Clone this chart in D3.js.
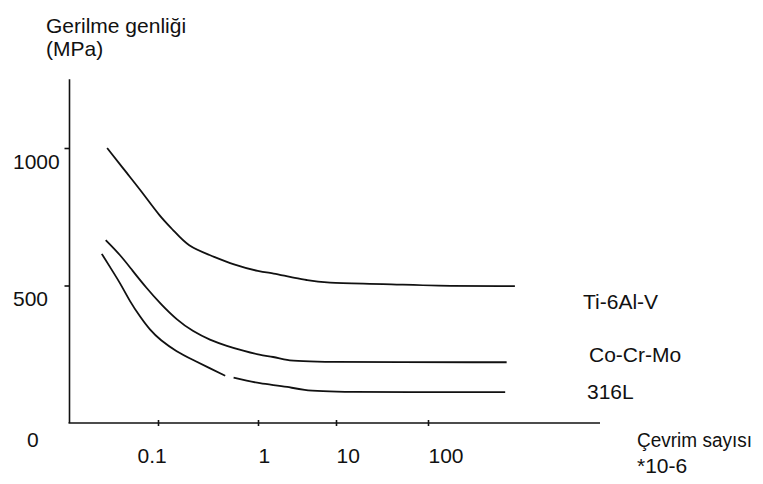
<!DOCTYPE html>
<html>
<head>
<meta charset="utf-8">
<script src="https://cdn.jsdelivr.net/npm/d3@7"></script>
<style>
  html, body { margin: 0; padding: 0; background: #fff; }
  svg text { font-family: "Liberation Sans", Arial, sans-serif; font-size: 21px; fill: #111; }
</style>
</head>
<body>
<svg id="chart" width="763" height="484"></svg>
<script>
// ---- data ----
const seriesNames = ["Ti-6Al-V", "Co-Cr-Mo", "316L"];
// [cycles (x10^6), stress amplitude MPa]
const ti6alv = [[0.031,1000],[0.049,908],[0.071,835],[0.105,750],[0.142,702],[0.2,641],[0.33,611],[0.57,575],[1.06,550],[1.56,545],[2.57,531],[4.25,520],[6.6,509],[35,506],[113,498],[880,498]];
const cocrmo = [[0.030,665],[0.042,611],[0.055,556],[0.077,490],[0.105,435],[0.154,375],[0.225,332],[0.33,302],[0.49,280],[0.71,263],[1.06,247],[1.56,241],[2.33,229],[3.8,221],[716,221]];
const l316 = [[0.0274,615],[0.033,568],[0.042,508],[0.0525,441],[0.066,387],[0.083,338],[0.105,302],[0.154,259],[0.225,229],[0.33,199],[0.47,172],[0.52,null],[0.57,165],[0.77,154],[1.06,144],[1.57,138],[2.33,132],[3.8,120],[8,112],[690,112]];
const xTickValues = [0.1, 1, 10, 100];
const xTickLabels = ["0.1", "1", "10", "100"];
const yTickValues = [500, 1000];
const yTickLabels = ["500", "1000"];
const yTitle = ["Gerilme genliği", "(MPa)"];
const xTitle = ["Çevrim sayısı", "*10-6"];

// ---- layout ----
const svg = d3.select("#chart");
const plotLeft = 69.5, plotRight = 600, plotBottom = 423, plotTop = 79.25;

// hand-drawn decade spacing in the original: piecewise log scale
const x = d3.scaleLog().domain(xTickValues).range([158, 258, 336, 428]);
const y = d3.scaleLinear().domain([0, 1250]).range([plotBottom, plotTop]);

const ink = "#111";

// axes lines
svg.append("line").attr("x1", plotLeft).attr("x2", plotLeft).attr("y1", plotTop).attr("y2", plotBottom)
  .attr("stroke", ink).attr("stroke-width", 1.6);
svg.append("line").attr("x1", plotLeft - 1).attr("x2", plotRight).attr("y1", plotBottom).attr("y2", plotBottom)
  .attr("stroke", ink).attr("stroke-width", 1.6);

// x axis ticks
const gx = svg.append("g").attr("transform", `translate(0,${plotBottom})`)
  .call(d3.axisBottom(x).tickValues(xTickValues).tickFormat((d, i) => xTickLabels[i]).tickSizeOuter(0));
gx.select(".domain").remove();
gx.selectAll(".tick line").attr("y1", -3).attr("y2", 3).attr("stroke", ink).attr("stroke-width", 1.6);
gx.selectAll(".tick text").attr("font-size", null).attr("font-family", null)
  .attr("y", 40).attr("dy", 0).attr("text-anchor", "start")
  .attr("dx", d => d < 1 ? -21 : 0);

// y axis ticks
const gy = svg.append("g").attr("transform", `translate(${plotLeft},0)`)
  .call(d3.axisLeft(y).tickValues(yTickValues).tickFormat((d, i) => yTickLabels[i]).tickSize(5).tickSizeOuter(0));
gy.select(".domain").remove();
gy.selectAll(".tick line").attr("stroke", ink).attr("stroke-width", 1.6);
gy.selectAll(".tick text").attr("font-size", null).attr("font-family", null)
  .attr("text-anchor", "start").attr("x", 13 - plotLeft).attr("dy", 20);

// origin label
svg.append("text").attr("x", 27).attr("y", y(0) + 24).text("0");

// titles
svg.append("text").attr("x", 46).attr("y", 33).text(yTitle[0]);
svg.append("text").attr("x", 46).attr("y", 56).text(yTitle[1]);
svg.append("text").attr("x", 637).attr("y", 447).style("font-size", "20px")
  .attr("textLength", 115).attr("lengthAdjust", "spacingAndGlyphs").text(xTitle[0]);
svg.append("text").attr("x", 637).attr("y", 473).text(xTitle[1]);

// curves
const line = d3.line()
  .defined(d => d[1] != null)
  .x(d => x(d[0]))
  .y(d => y(d[1]))
  .curve(d3.curveBasis);

const allSeries = [ti6alv, cocrmo, l316];
svg.append("g").selectAll("path").data(allSeries).join("path")
  .attr("d", line)
  .attr("fill", "none")
  .attr("stroke", ink)
  .attr("stroke-width", 1.8)
  .attr("stroke-linejoin", "round");

// series labels
const labelPos = [[583, 309], [589, 362], [587, 399]];
svg.append("g").selectAll("text").data(seriesNames).join("text")
  .attr("x", (d, i) => labelPos[i][0])
  .attr("y", (d, i) => labelPos[i][1])
  .text(d => d);
</script>
</body>
</html>
